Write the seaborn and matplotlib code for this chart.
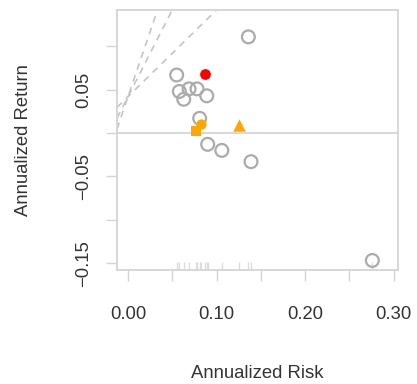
import pandas as pd
import matplotlib
matplotlib.use("Agg")
import matplotlib.pyplot as plt
import seaborn as sns

# Peer funds (gray open circles): annualized risk / return
peer_risk = [0.136, 0.055, 0.058, 0.069, 0.078, 0.063, 0.089, 0.081, 0.090, 0.106, 0.139, 0.276]
peer_return = [0.111, 0.067, 0.048, 0.051, 0.051, 0.039, 0.043, 0.017, -0.013, -0.020, -0.033, -0.147]

# Highlighted fund (red)
fund_risk = [0.087]
fund_return = [0.068]

# Benchmarks (orange)
bench_risk = [0.077, 0.083, 0.125]
bench_return = [0.002, 0.010, 0.009]
bench_markers = ["s", "o", "^"]

# Sharpe ratio lines: intercept = annualized risk-free rate
rf_annual = 0.042
sharpe_slopes = [1, 2, 3]

x_ticks = [0.00, 0.05, 0.10, 0.15, 0.20, 0.25, 0.30]
x_labels = ["0.00", "", "0.10", "", "0.20", "", "0.30"]
y_ticks = [-0.15, -0.10, -0.05, 0.00, 0.05, 0.10]
y_labels = ["\u22120.15", "", "\u22120.05", "", "0.05", ""]

peers = pd.DataFrame({"risk": peer_risk, "ret": peer_return})
fund = pd.DataFrame({"risk": fund_risk, "ret": fund_return})
bench = pd.DataFrame({"risk": bench_risk, "ret": bench_return, "mk": bench_markers})

sns.set_style("white")
plt.rcParams["font.family"] = ["Liberation Sans", "DejaVu Sans"]

fig = plt.figure(figsize=(4.17, 3.84), dpi=100)
ax = fig.add_axes([117 / 417, 1 - 270 / 384, 281 / 417, 260 / 384])

light = "#d4d4d4"
text_col = "#333333"

# Sharpe lines and zero line
for b in sharpe_slopes:
    ax.axline((0, rf_annual), slope=b, color="#c4c4c4", lw=1.2, ls=(0, (4, 3.5)), zorder=1)
ax.axhline(0, color=light, lw=1.3, zorder=1)

# rug of risk values along the bottom
all_risk = peer_risk + fund_risk + bench_risk
sns.rugplot(x=all_risk, ax=ax, height=0.03, color="#dcdcdc", lw=0.8)

sns.scatterplot(data=peers, x="risk", y="ret", ax=ax, marker="o", s=85,
                color="none", edgecolor="#ababab", linewidth=1.6, zorder=3)
for _, r in bench.iterrows():
    sz = 80 if r["mk"] == "^" else 55
    sns.scatterplot(x=[r["risk"]], y=[r["ret"]], ax=ax, marker=r["mk"], s=sz,
                    color="#ffa500", linewidth=0, zorder=4)
sns.scatterplot(data=fund, x="risk", y="ret", ax=ax, marker="o", s=60,
                color="#ff0000", linewidth=0, zorder=5)

ax.set_xlim(-0.0124, 0.305)
ax.set_ylim(-0.158, 0.142)
ax.set_xticks(x_ticks)
ax.set_xticklabels(x_labels)
ax.set_yticks(y_ticks)
ax.set_yticklabels(y_labels)

for sp in ax.spines.values():
    sp.set_visible(True)
    sp.set_color(light)
    sp.set_linewidth(1.3)

fs = 13.3
ax.tick_params(axis="x", direction="out", length=8, width=1, color=light,
               pad=18, labelsize=fs, labelcolor=text_col, bottom=True)
ax.tick_params(axis="y", direction="out", length=8, width=1, color=light,
               pad=10, labelsize=fs, labelcolor=text_col, left=True, labelrotation=90)
for lab in ax.get_yticklabels():
    lab.set_va("center")

ax.set_xlabel("Annualized Risk", fontsize=fs, color=text_col)
ax.set_ylabel("Annualized Return", fontsize=fs, color=text_col)
ax.xaxis.set_label_coords(0.5, -0.365)
ax.yaxis.set_label_coords(-0.302, 0.5)

fig.savefig("out.png", dpi=100)
